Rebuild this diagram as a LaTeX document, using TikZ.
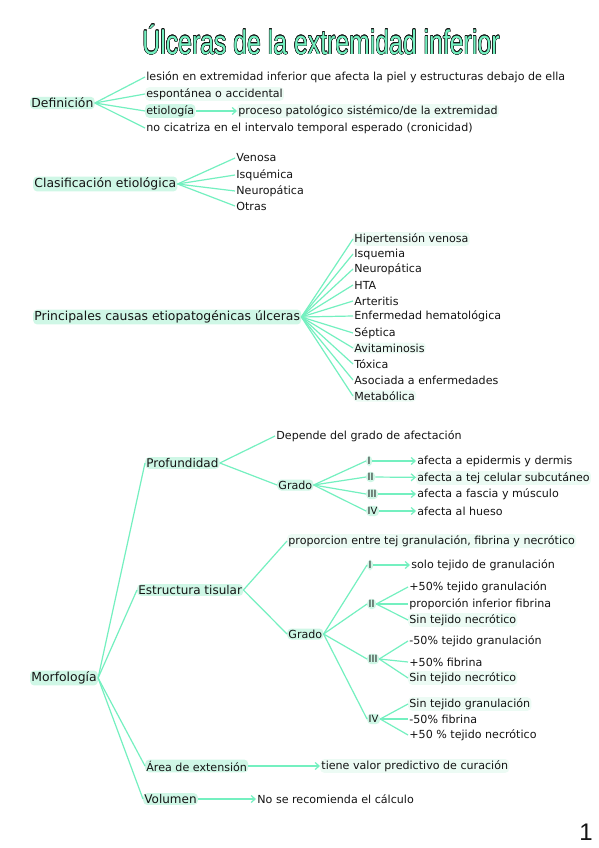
\documentclass[tikz,border=0pt]{standalone}
\usepackage{fontspec}
\setmainfont{DejaVu Sans}
\newfontfamily\titlefont{Liberation Sans}
\usepackage[copies]{contour}
\usetikzlibrary{arrows.meta}
\definecolor{mint}{HTML}{74F0C0}
\definecolor{mintlt}{HTML}{CFF7E6}
\definecolor{mintpale}{HTML}{ECFBF4}
\definecolor{ink}{HTML}{141414}
\begin{document}
\begin{tikzpicture}[x=1pt,y=-1pt,
 txt/.style={anchor=west, inner sep=1.2pt, font=\fontsize{11.1}{13}\selectfont, text=ink},
 hl/.style={txt, fill=mintlt, rounded corners=4pt},
 pl/.style={txt, fill=mintpale, rounded corners=4pt},
 hd/.style={hl, font=\fontsize{12.4}{14}\selectfont},
 sub/.style={hl, font=\fontsize{12}{14}\selectfont},
 rn/.style={hl, font=\fontsize{10}{12}\selectfont, inner sep=1.5pt},
 br/.style={draw=mint, line width=1.2pt},
 arr/.style={br, -{Straight Barb[length=4pt,width=7pt]}},
]
\useasboundingbox[fill=white] (0,0) rectangle (599,848);

% title
\node (title) at (321,40) {\titlefont\fontsize{34}{38}\selectfont\contourlength{0.5pt}\color{mint}\scalebox{0.73}[1]{\contour{ink}{Úlceras de la extremidad inferior}}};

% Definicion
\node[hd] (def) at (30,103) {Definición};
\node[txt] (d1) at (145,77) {lesión en extremidad inferior que afecta la piel y estructuras debajo de ella};
\node[pl] (d2) at (145,94) {espontánea o accidental};
\node[hl] (d3) at (145,111) {etiología};
\node[pl] (d3b) at (237,111) {proceso patológico sistémico/de la extremidad};
\node[txt] (d4) at (145,128) {no cicatriza en el intervalo temporal esperado (cronicidad)};
\foreach \n in {d1,d2,d3,d4} \draw[br] (def.east) -- (\n.west);
\draw[arr] (d3) -- (d3b);

% Clasificacion
\node[hd] (cla) at (33,184) {Clasificación etiológica};
\node[txt] (c1) at (235,158) {Venosa};
\node[txt] (c2) at (235,175) {Isquémica};
\node[txt] (c3) at (235,191) {Neuropática};
\node[txt] (c4) at (235,206) {Otras};
\foreach \n in {c1,c2,c3,c4} \draw[br] (cla.east) -- (\n.west);

% Causas
\node[hd] (cau) at (33,317) {Principales causas etiopatogénicas úlceras};
\node[pl] (k1) at (353,239) {Hipertensión venosa};
\node[txt] (k2) at (353,254) {Isquemia};
\node[txt] (k3) at (353,269) {Neuropática};
\node[txt] (k4) at (353,285) {HTA};
\node[txt] (k5) at (353,301) {Arteritis};
\node[txt] (k6) at (353,316) {Enfermedad hematológica};
\node[txt] (k7) at (353,333) {Séptica};
\node[pl] (k8) at (353,348) {Avitaminosis};
\node[txt] (k9) at (353,364) {Tóxica};
\node[txt] (k10) at (353,380) {Asociada a enfermedades};
\node[pl] (k11) at (353,396) {Metabólica};
\foreach \n in {k1,k2,k3,k4,k5,k6,k7,k8,k9,k10,k11} \draw[br] (cau.east) -- (\n.west);

% Morfologia
\node[hd] (mor) at (30,678) {Morfología};
\node[sub] (pro) at (145,463) {Profundidad};
\node[sub] (est) at (137,590) {Estructura tisular};
\node[hl] (are) at (145,766) {Área de extensión};
\node[sub] (vol) at (143,799) {Volumen};
\foreach \n in {pro,est,are,vol} \draw[br] (mor.east) -- (\n.west);

% Profundidad
\node[txt] (dep) at (275,436) {Depende del grado de afectación};
\node[hl] (g1) at (277,485) {Grado};
\draw[br] (pro.east) -- (dep.west);
\draw[br] (pro.east) -- (g1.west);
\node[rn] (r1) at (366,461) {I};
\node[rn] (r2) at (366,477) {II};
\node[rn] (r3) at (366,494) {III};
\node[rn] (r4) at (366,511) {IV};
\foreach \n in {r1,r2,r3,r4} \draw[br] (g1.east) -- (\n.west);
\node[txt] (a1) at (416,461) {afecta a epidermis y dermis};
\node[pl] (a2) at (416,478) {afecta a tej celular subcutáneo};
\node[txt] (a3) at (416,494) {afecta a fascia y músculo};
\node[txt] (a4) at (416,511) {afecta al hueso};
\draw[arr] (r1) -- (a1);
\draw[arr] (r2) -- (a2);
\draw[arr] (r3) -- (a3);
\draw[arr] (r4) -- (a4);

% Estructura tisular
\node[pl] (prop) at (287,541) {proporcion entre tej granulación, fibrina y necrótico};
\node[hl] (g2) at (287,634) {Grado};
\draw[br] (est.east) -- (prop.west);
\draw[br] (est.east) -- (g2.west);
\node[rn] (s1) at (367,565) {I};
\node[rn] (s2) at (367,604) {II};
\node[rn] (s3) at (367,659) {III};
\node[rn] (s4) at (367,719) {IV};
\foreach \n in {s1,s2,s3,s4} \draw[br] (g2.east) -- (\n.west);
\node[txt] (t1) at (410,565) {solo tejido de granulación};
\draw[arr] (s1) -- (t1);
\node[txt] (t21) at (408,587) {+50\% tejido granulación};
\node[txt] (t22) at (408,604) {proporción inferior fibrina};
\node[pl] (t23) at (408,620) {Sin tejido necrótico};
\foreach \n in {t21,t22,t23} \draw[br] (s2.east) -- (\n.west);
\node[txt] (t31) at (408,641) {-50\% tejido granulación};
\node[txt] (t32) at (408,662) {+50\% fibrina};
\node[pl] (t33) at (408,678) {Sin tejido necrótico};
\foreach \n in {t31,t32,t33} \draw[br] (s3.east) -- (\n.west);
\node[pl] (t41) at (408,704) {Sin tejido granulación};
\node[txt] (t42) at (408,719) {-50\% fibrina};
\node[txt] (t43) at (408,735) {+50 \% tejido necrótico};
\foreach \n in {t41,t42,t43} \draw[br] (s4.east) -- (\n.west);

% Area, Volumen
\node[pl] (cur) at (320,766) {tiene valor predictivo de curación};
\draw[arr] (are) -- (cur);
\node[txt] (nor) at (256,799) {No se recomienda el cálculo};
\draw[arr] (vol) -- (nor);

% page number
\node[text=ink] (pg) at (586,832) {\titlefont\fontsize{24}{26}\selectfont 1};
\end{tikzpicture}
\end{document}
